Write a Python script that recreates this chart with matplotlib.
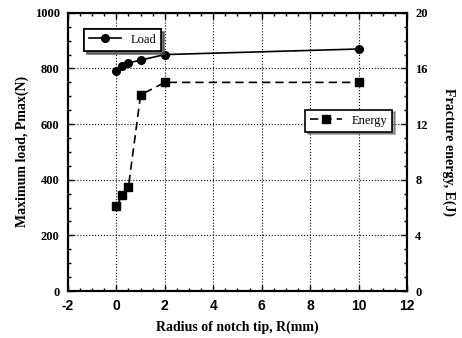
import matplotlib.pyplot as plt
from matplotlib.ticker import MultipleLocator

plt.rcParams["axes.unicode_minus"] = False

# radius of notch tip (mm)
radius = [0, 0.25, 0.5, 1, 2, 10]
load = [792, 810, 820, 830, 850, 870]        # N
energy = [6.1, 6.9, 7.5, 14.1, 15.0, 15.0]   # J

serif = "Liberation Serif"
sans = "Liberation Sans"

fig = plt.figure(figsize=(4.62, 3.38), dpi=100)
ax = fig.add_axes([0.147, 0.139, 0.734, 0.823])
ax2 = ax.twinx()

l1, = ax.plot(radius, load, "k-", marker="o", ms=5.5, lw=1.2, label="Load")
l2, = ax2.plot(radius, energy, "k--", marker="s", ms=5.5, lw=1.2, dashes=(5, 3), label="Energy")

ax.set_xlim(-2, 12)
ax.set_ylim(0, 1000)
ax2.set_ylim(0, 20)

ax.xaxis.set_major_locator(MultipleLocator(2))
ax.xaxis.set_minor_locator(MultipleLocator(0.5))
ax.yaxis.set_major_locator(MultipleLocator(200))
ax.yaxis.set_minor_locator(MultipleLocator(50))
ax2.yaxis.set_major_locator(MultipleLocator(4))
ax2.yaxis.set_minor_locator(MultipleLocator(1))

ax.grid(True, which="major", linestyle=":", color="k", lw=0.8)
ax.tick_params(which="both", direction="in", top=True, width=1)
ax.tick_params(which="major", length=4)
ax.tick_params(which="minor", length=2)
ax.tick_params(axis="x", pad=6)
ax.tick_params(axis="y", pad=6)
ax2.tick_params(which="both", direction="in", width=1)
ax2.tick_params(which="major", length=4)
ax2.tick_params(which="minor", length=2)
ax2.tick_params(axis="y", pad=6)

for t in ax.get_xticklabels():
    t.set_fontfamily(sans)
    t.set_fontweight("bold")
    t.set_fontsize(10)
for t in ax.get_yticklabels() + ax2.get_yticklabels():
    t.set_fontfamily(serif)
    t.set_fontweight("bold")
    t.set_fontsize(9)

for a in (ax, ax2):
    for s in a.spines.values():
        s.set_linewidth(1.5)

ax.set_xlabel("Radius of notch tip, R(mm)", fontfamily=serif, fontweight="bold", fontsize=10,
              labelpad=5)
ax.set_ylabel("Maximum load, Pmax(N)", fontfamily=serif, fontweight="bold", fontsize=10)
ax2.set_ylabel("Fracture energy, E(J)", fontfamily=serif, fontweight="bold", fontsize=10,
               rotation=-90, labelpad=20)

leg1 = ax.legend(handles=[l1], loc="upper left", bbox_to_anchor=(0.03, 0.965),
                 fancybox=False, shadow=True, edgecolor="k", framealpha=1,
                 prop={"family": serif, "size": 9}, handlelength=2.5)
leg1.get_frame().set_linewidth(1.2)
ax.add_artist(leg1)
leg2 = ax2.legend(handles=[l2], loc="upper right", bbox_to_anchor=(0.975, 0.675),
                  fancybox=False, shadow=True, edgecolor="k", framealpha=1,
                  prop={"family": serif, "size": 9}, handlelength=2.5)
leg2.get_frame().set_linewidth(1.2)

fig.savefig("out.png", dpi=100)
